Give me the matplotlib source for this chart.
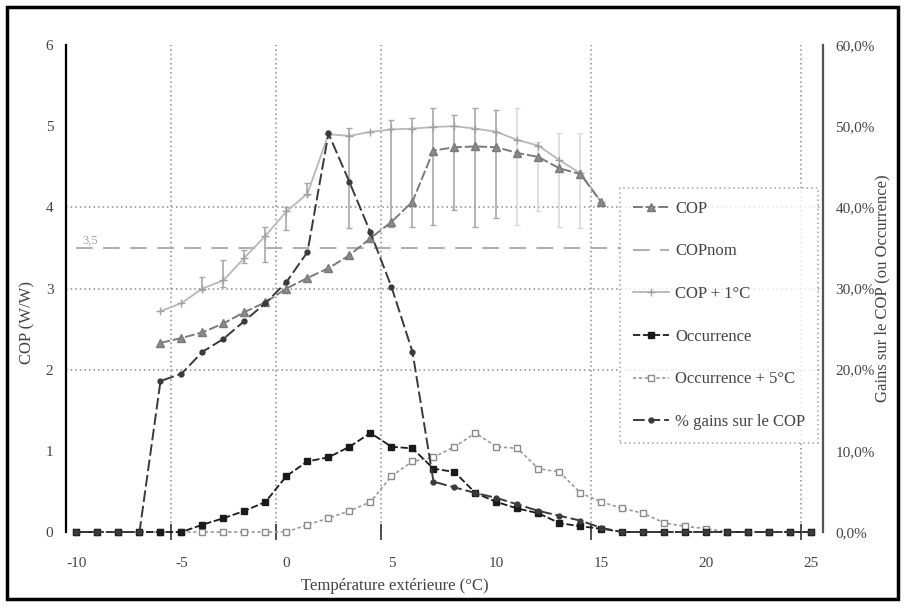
import numpy as np
import matplotlib
matplotlib.use("Agg")
import matplotlib.pyplot as plt
from matplotlib.patches import Rectangle
from matplotlib.ticker import FixedLocator

plt.rcParams['font.family'] = ['Liberation Serif', 'DejaVu Serif']

# -------------------- data --------------------
temps = list(range(-10, 26))  # -10 .. 25 degC

# Occurrence (% of hours), right axis
occurrence = [0, 0, 0, 0, 0, 0,
              0.9, 1.7, 2.6, 3.7, 6.9, 8.7, 9.2, 10.5, 12.2, 10.5,
              10.3, 7.8, 7.4, 4.8, 3.7, 2.9, 2.3, 1.1, 0.7, 0.4,
              0, 0, 0, 0, 0, 0, 0, 0, 0, 0]

# Occurrence + 5 degC, right axis
occurrence_5 = [0, 0, 0, 0, 0, 0, 0, 0, 0, 0, 0,
                0.9, 1.7, 2.6, 3.7, 6.9, 8.7, 9.2, 10.5, 12.2, 10.5,
                10.3, 7.8, 7.4, 4.8, 3.7, 2.9, 2.3, 1.1, 0.7, 0.4,
                0, 0, 0, 0, 0]

# % gains sur le COP, right axis
gains = [0, 0, 0, 0,
         18.6, 19.5, 22.2, 23.8, 26.0, 28.2, 30.8, 34.5, 49.1, 43.1,
         36.9, 30.2, 22.2, 6.2, 5.5, 4.8, 4.2, 3.4, 2.6, 2.0, 1.4, 0.5,
         0, 0, 0, 0, 0, 0, 0, 0, 0, 0]

# COP and COP + 1 degC (W/W), left axis, from -6 to 15 degC
cop_temps = list(range(-6, 16))
cop = [2.33, 2.39, 2.46, 2.57, 2.71, 2.83, 3.0, 3.13, 3.25, 3.41, 3.62,
       3.82, 4.07, 4.70, 4.74, 4.75, 4.74, 4.67, 4.62, 4.48, 4.41, 4.06]
cop_1 = [2.72, 2.82, 3.0, 3.1, 3.38, 3.65, 3.95, 4.17, 4.9, 4.88, 4.93,
         4.96, 4.97, 4.99, 5.0, 4.97, 4.93, 4.83, 4.76, 4.58, 4.42, 4.06]

# nominal COP, drawn from -10 to 16 degC
nom_temps = list(range(-10, 17))
cop_nom = 3.5

# error bars (low / high COP) on COP + 1 degC
bar_t = [-4, -3, -2, -1, 0, 1, 3, 5, 6, 7, 8, 9, 10]
bar_lo = [2.98, 3.02, 3.31, 3.33, 3.72, 4.15, 3.74, 3.76, 3.76, 3.78, 3.97, 3.76, 3.87]
bar_hi = [3.14, 3.35, 3.47, 3.76, 4.0, 4.3, 4.98, 5.07, 5.1, 5.22, 5.14, 5.22, 5.2]
faint_t = [11, 12, 13, 14]
faint_lo = [3.78, 3.96, 3.76, 3.74]
faint_hi = [5.22, 4.8, 4.91, 4.91]

xticks = [-10, -5, 0, 5, 10, 15, 20, 25]
grid_x = [-5.5, -0.5, 4.5, 14.5, 24.5]
grid_y = [2, 3, 4]

# -------------------- plotting --------------------
fig = plt.figure(figsize=(9.06, 6.08), dpi=100)
ax = fig.add_axes([66/906, 1 - 532/608, (823 - 66)/906, (532 - 45)/608])
ax2 = ax.twinx()

ax.set_xlim(-10.5, 25.55)
ax.set_ylim(0, 6)
ax2.set_ylim(0, 60)

# grid
for gx in grid_x:
    ax.axvline(gx, color='#8a8a8a', lw=1.1, ls=(0, (1, 2)), zorder=1)
for gy in grid_y:
    ax.axhline(gy, color='#8a8a8a', lw=1.1, ls=(0, (1, 2)), zorder=1)

# error bars
def bars(ts, lo, hi, color):
    lo = np.array(lo)
    hi = np.array(hi)
    mid = (lo + hi) / 2
    ax.errorbar(ts, mid, yerr=[mid - lo, hi - mid], fmt='none',
                ecolor=color, elinewidth=1.2, capsize=2.5, zorder=2)

bars(bar_t, bar_lo, bar_hi, '#a8a8a8')
bars(faint_t, faint_lo, faint_hi, '#dadada')

# left axis series
l_cop, = ax.plot(cop_temps, cop, color='#7a7a7a', lw=1.4, ls=(0, (5, 1.5)),
                 marker='^', ms=6, mfc='#8a8a8a', mec='#7a7a7a', zorder=4)
l_nom, = ax.plot(nom_temps, [cop_nom] * len(nom_temps), color='#b0b0b0', lw=1.5,
                 ls=(0, (8, 5)), zorder=3)
l_cop1, = ax.plot(cop_temps, cop_1, color='#b8b8b8', lw=1.3,
                  marker='+', ms=6, mec='#a0a0a0', zorder=3)
ax.text(-9.7, cop_nom + 0.05, '3,5', color='#a0a0a0', fontsize=9)

# right axis series
l_occ, = ax2.plot(temps, occurrence, color='#1a1a1a', lw=1.3, ls=(0, (4, 1.5)),
                  marker='s', ms=5, mfc='#1a1a1a', mec='#1a1a1a', zorder=5,
                  clip_on=False)
l_occ5, = ax2.plot(temps, occurrence_5, color='#9a9a9a', lw=1.2, ls=(0, (2, 1.5)),
                   marker='s', ms=5, mfc='white', mec='#8a8a8a', zorder=4,
                   clip_on=False)
l_gain, = ax2.plot(temps, gains, color='#3a3a3a', lw=1.4, ls=(0, (6, 2)),
                   marker='o', ms=3.5, mfc='#3a3a3a', mec='#3a3a3a', zorder=5,
                   clip_on=False)

# axes styling
for a in (ax, ax2):
    a.spines['top'].set_visible(False)
    a.spines['bottom'].set_visible(False)
ax.spines['right'].set_visible(False)
ax.spines['left'].set_color('black')
ax.spines['left'].set_linewidth(1.6)
ax2.spines['left'].set_visible(False)
ax2.spines['right'].set_color('#555555')
ax2.spines['right'].set_linewidth(1.6)

ax.set_xticks(xticks)
ax.set_xticklabels([str(v) for v in xticks])
ax.tick_params(axis='x', length=0, pad=18, labelsize=11, labelcolor='#444444')
ax.xaxis.set_minor_locator(FixedLocator(grid_x))
ax.tick_params(axis='x', which='minor', direction='inout', length=12,
               width=1.2, color='#333333')

ax.set_yticks(range(0, 7))
ax.tick_params(axis='y', length=0, pad=9, labelsize=11, labelcolor='#444444')
ax.yaxis.set_minor_locator(FixedLocator(grid_y))
ax.tick_params(axis='y', which='minor', direction='inout', length=12,
               width=1.2, color='black')

ax2.set_yticks(range(0, 61, 10))
ax2.set_yticklabels(['%d,0%%' % v for v in range(0, 61, 10)])
ax2.tick_params(axis='y', length=0, pad=9, labelsize=11, labelcolor='#444444')
ax2.yaxis.set_minor_locator(FixedLocator([20, 30, 40]))
ax2.tick_params(axis='y', which='minor', direction='inout', length=12,
                width=1.2, color='#555555')

ax.set_xlabel('Température extérieure (°C)', fontsize=12, color='#444444')
ax.xaxis.set_label_coords(0.435, -0.094)
ax.set_ylabel('COP (W/W)', fontsize=12, color='#444444')
ax.yaxis.set_label_coords(-0.041, 0.43)
ax2.set_ylabel('Gains sur le COP (ou Occurrence)', fontsize=12, color='#444444')
ax2.yaxis.set_label_coords(1.068, 0.5)

# legend
leg = ax2.legend([l_cop, l_nom, l_cop1, l_occ, l_occ5, l_gain],
                 ['COP', 'COPnom', 'COP + 1°C', 'Occurrence',
                  'Occurrence + 5°C', '% gains sur le COP'],
                 loc='upper left', bbox_to_anchor=(0.732, 0.706),
                 fontsize=12, labelspacing=1.6, handlelength=2.2,
                 handletextpad=0.35, borderpad=0.75, borderaxespad=0,
                 frameon=True, fancybox=False, labelcolor='#444444')
leg.get_frame().set_edgecolor('#8a8a8a')
leg.get_frame().set_linestyle((0, (1, 2)))
leg.get_frame().set_linewidth(1.1)
leg.set_zorder(10)

# outer black frame
fig.patches.append(Rectangle((7/906, 1 - 599/608), (898 - 7)/906, (599 - 7)/608,
                             transform=fig.transFigure, fill=False,
                             lw=2.5, edgecolor='black'))

fig.savefig('out.png', dpi=100)
